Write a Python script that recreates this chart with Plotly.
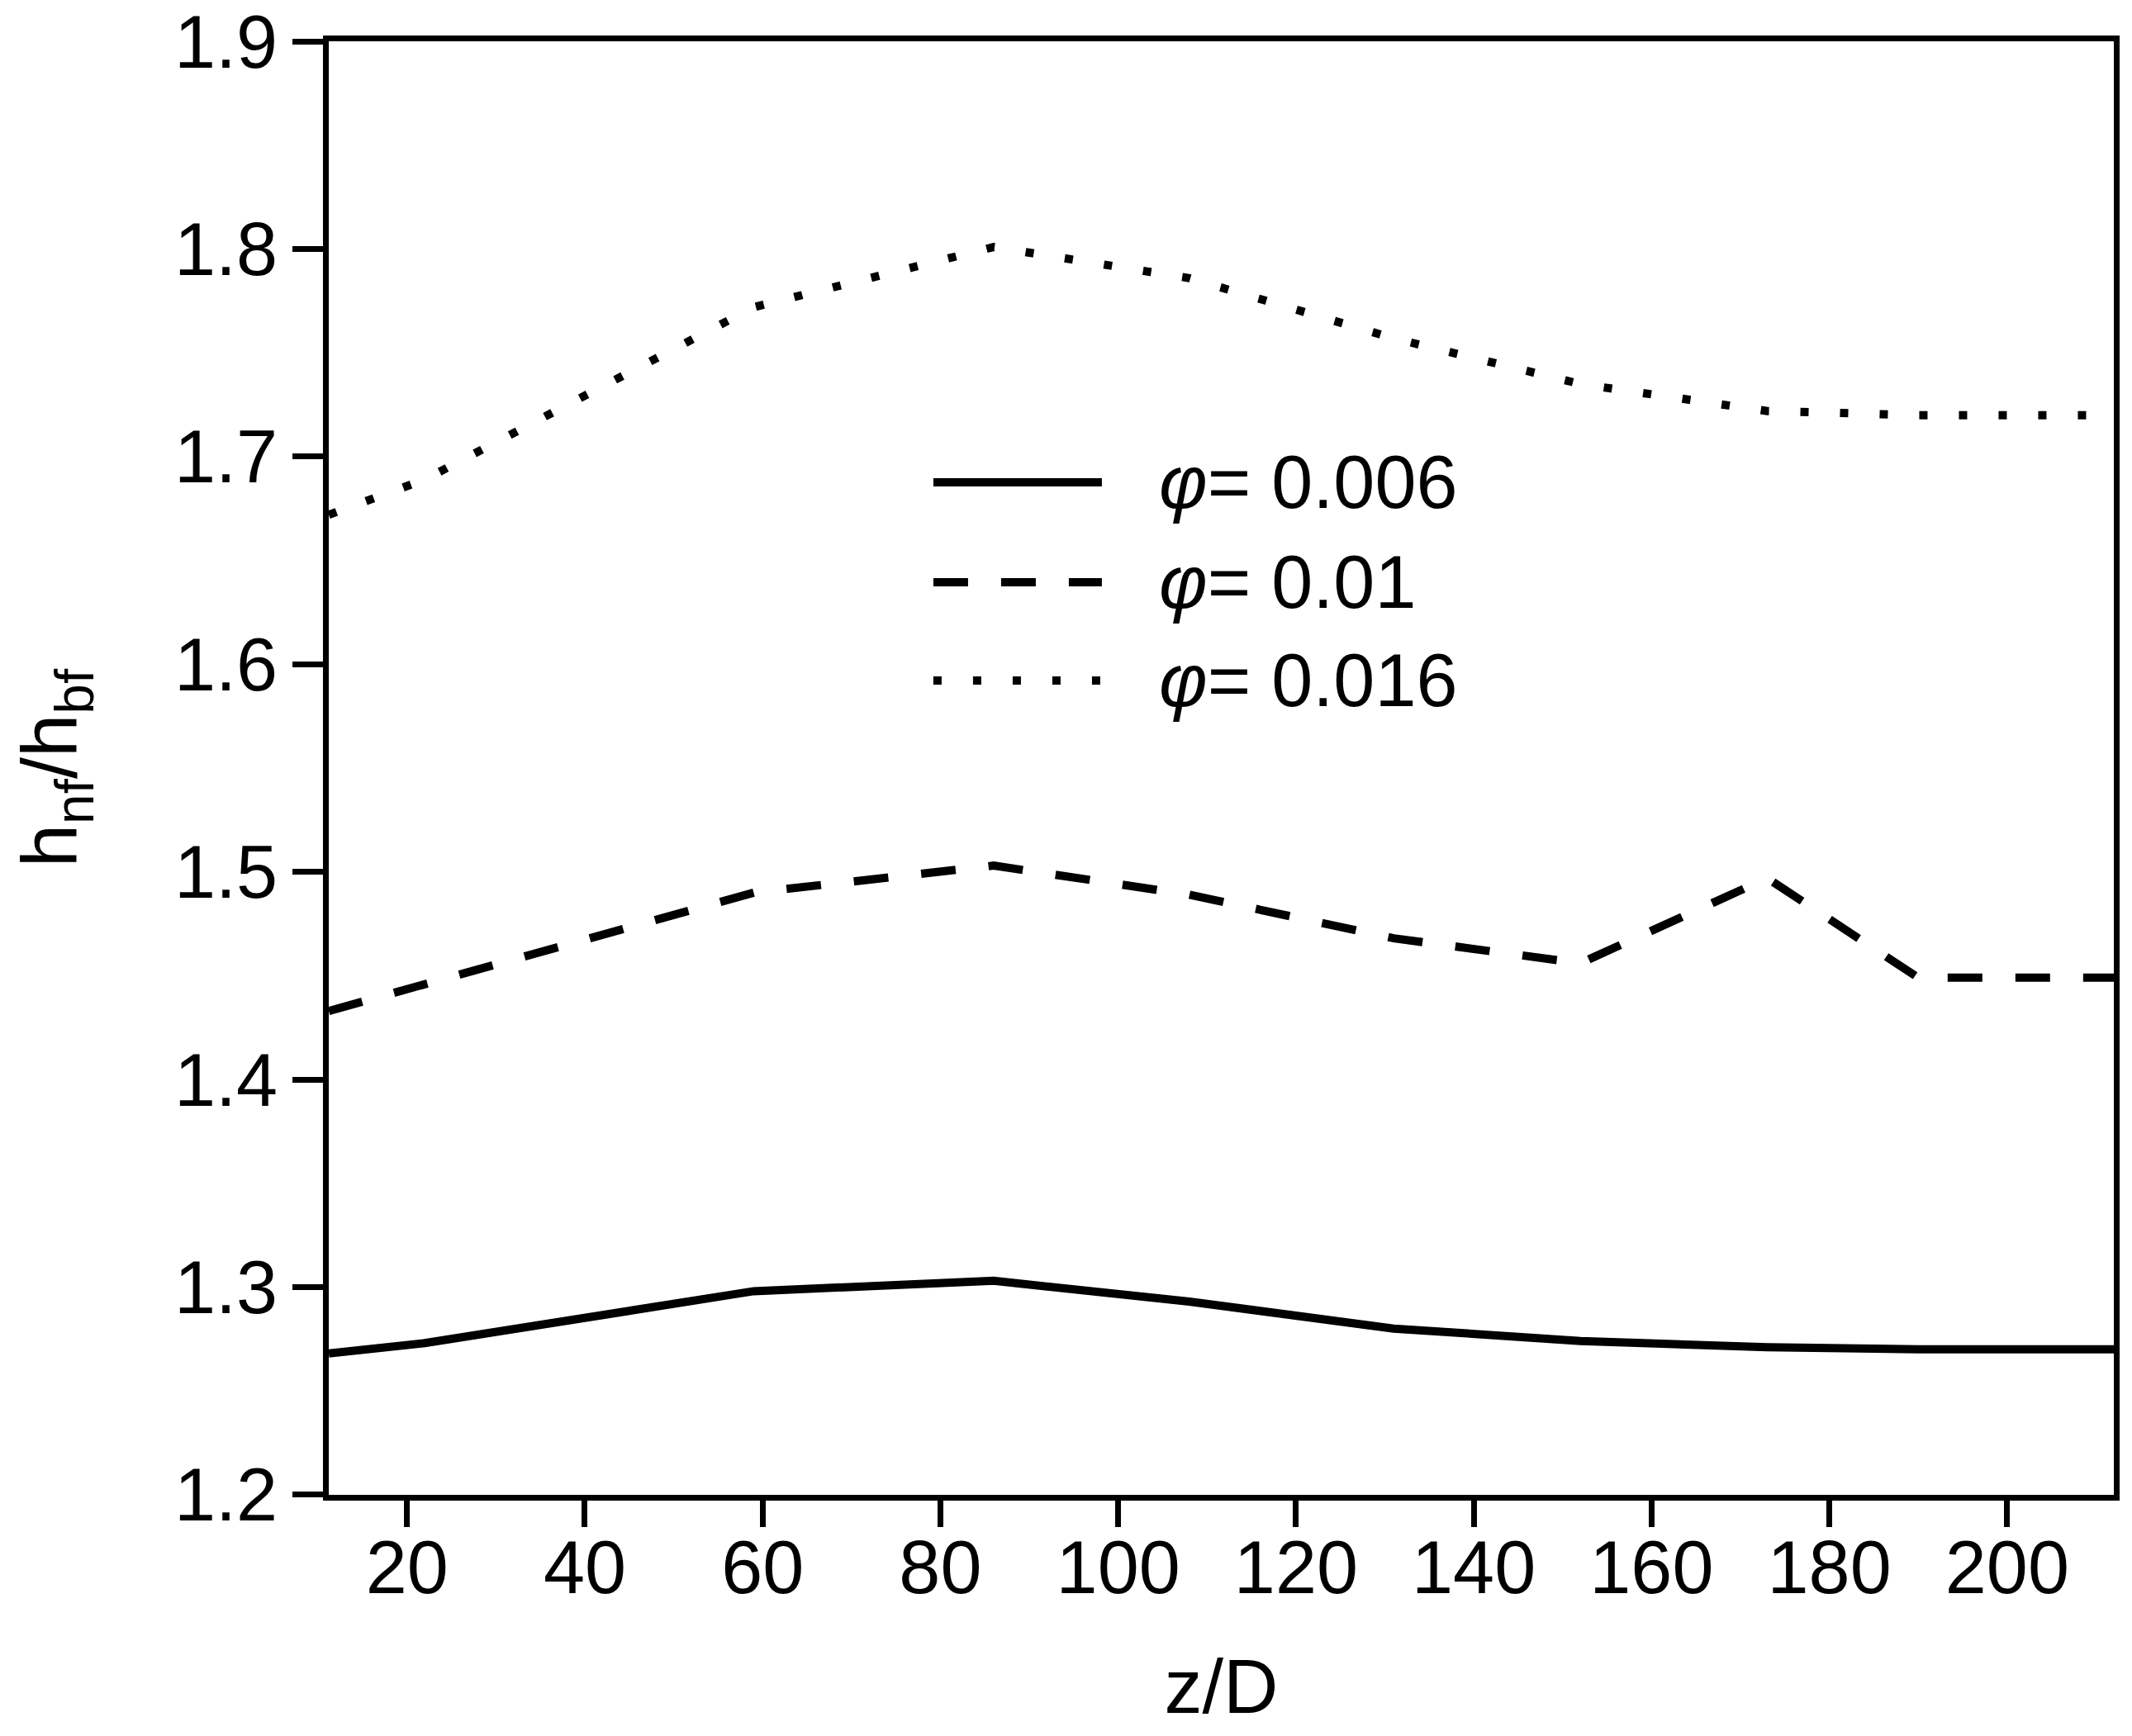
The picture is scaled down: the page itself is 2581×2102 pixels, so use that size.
import plotly.graph_objects as go

# z/D positions
z_over_d = [11.2, 22, 59, 86, 108, 131, 152, 173, 190, 212]

# h_nf / h_bf for each volume fraction
h_phi_0006 = [1.268, 1.273, 1.298, 1.303, 1.293, 1.280, 1.274, 1.271, 1.270, 1.270]
h_phi_001 = [1.433, 1.446, 1.490, 1.503, 1.489, 1.468, 1.456, 1.497, 1.449, 1.449]
h_phi_0016 = [1.672, 1.689, 1.772, 1.801, 1.786, 1.757, 1.735, 1.722, 1.720, 1.720]

series_names = ["<i>φ</i>= 0.006", "<i>φ</i>= 0.01", "<i>φ</i>= 0.016"]
series_dash = ["solid", "42px,40px", "10px,38px"]

x_ticks = [20, 40, 60, 80, 100, 120, 140, 160, 180, 200]
y_ticks = [1.2, 1.3, 1.4, 1.5, 1.6, 1.7, 1.8, 1.9]

FONT = "Liberation Sans, Arial, sans-serif"

fig = go.Figure()

for name, ys, dash in zip(series_names, [h_phi_0006, h_phi_001, h_phi_0016], series_dash):
    fig.add_trace(
        go.Scatter(
            x=z_over_d,
            y=ys,
            mode="lines",
            name=name,
            line=dict(color="black", width=10, dash=dash),
            showlegend=False,
        )
    )

# legend drawn by hand so the line samples are as long as in the original
legend_y = [0.6966, 0.6278, 0.5602]
for name, dash, ly in zip(series_names, series_dash, legend_y):
    fig.add_shape(
        type="line", xref="paper", yref="paper",
        x0=0.3387, x1=0.4331, y0=ly, y1=ly,
        line=dict(color="black", width=10, dash=dash),
    )
    fig.add_annotation(
        xref="paper", yref="paper", x=0.4640, y=ly,
        xanchor="left", yanchor="middle", showarrow=False,
        text=name, font=dict(family=FONT, size=90, color="black"),
    )

fig.update_layout(
    width=2565,
    height=2086,
    margin=dict(l=390, r=14, t=42, b=284),
    plot_bgcolor="white",
    paper_bgcolor="white",
    font=dict(family=FONT, size=90, color="black"),
    xaxis=dict(
        range=[11.2, 212],
        tickvals=x_ticks,
        ticks="outside",
        ticklen=32,
        tickwidth=7,
        tickcolor="black",
        ticklabelstandoff=-28,
        ticklabeloverflow="allow",
        automargin=False,
        showline=True,
        linewidth=7,
        linecolor="black",
        mirror=True,
        showgrid=False,
        zeroline=False,
        title=dict(text="z/D", font=dict(size=92), standoff=65),
    ),
    yaxis=dict(
        range=[1.1999, 1.9001],
        tickvals=y_ticks,
        tickformat=".1f",
        ticks="outside",
        ticklen=37,
        tickwidth=7,
        tickcolor="black",
        ticklabeloverflow="allow",
        automargin=False,
        showline=True,
        linewidth=7,
        linecolor="black",
        mirror=True,
        showgrid=False,
        zeroline=False,
        title=dict(text="h<sub>nf</sub>/h<sub>bf</sub>", font=dict(size=94), standoff=105),
    ),
)

fig.write_html("out.html")
